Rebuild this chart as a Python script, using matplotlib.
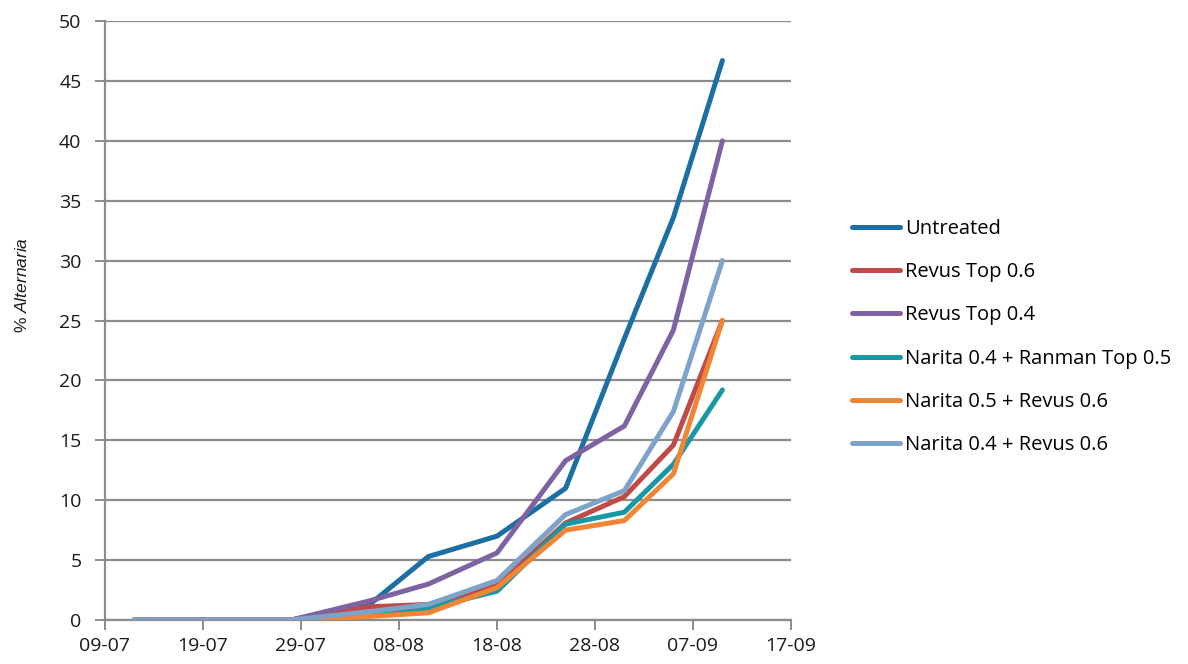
import matplotlib
matplotlib.use("Agg")
import matplotlib.pyplot as plt
import matplotlib.dates as mdates
import datetime as dt

# Assessment dates (day-month)
dates = ["12-07", "28-07", "05-08", "11-08", "18-08", "25-08", "31-08", "05-09", "10-09"]

untreated      = [0.0, 0.0, 1.3, 5.3, 7.0, 11.0, 23.5, 33.6, 46.7]
revus_top_06   = [0.0, 0.0, 1.1, 1.3, 2.9, 8.1, 10.3, 14.6, 25.0]
revus_top_04   = [0.0, 0.0, 1.6, 3.0, 5.6, 13.3, 16.2, 24.2, 40.0]
narita_ranman  = [0.0, 0.0, 0.5, 1.0, 2.4, 8.0, 9.0, 13.0, 19.2]
narita05_revus = [0.0, 0.0, 0.3, 0.6, 2.7, 7.5, 8.3, 12.2, 25.0]
narita04_revus = [0.0, 0.0, 0.7, 1.3, 3.3, 8.8, 10.8, 17.4, 30.0]

series_labels = ["Untreated", "Revus Top 0.6", "Revus Top 0.4",
                 "Narita 0.4 + Ranman Top 0.5", "Narita 0.5 + Revus 0.6",
                 "Narita 0.4 + Revus 0.6"]
series_colors = ["#1B6FA2", "#BE4B48", "#7E62A1", "#1798A5", "#EF8535", "#7EA3CA"]

x_ticks = ["09-07", "19-07", "29-07", "08-08", "18-08", "28-08", "07-09", "17-09"]
y_ticks = [0, 5, 10, 15, 20, 25, 30, 35, 40, 45, 50]

YEAR = 2012


def to_date(s):
    d, m = s.split("-")
    return dt.datetime(YEAR, int(m), int(d))


xd = [to_date(s) for s in dates]
xt = [to_date(s) for s in x_ticks]

plt.rcParams["font.family"] = ["Open Sans", "DejaVu Sans"]
plt.rcParams["mathtext.fontset"] = "custom"
plt.rcParams["mathtext.rm"] = "Liberation Sans"
plt.rcParams["mathtext.it"] = "Liberation Sans:italic"

fig = plt.figure(figsize=(11.88, 6.64), dpi=100)
ax = fig.add_axes([105 / 1188, 44 / 664, (791 - 105) / 1188, (620 - 21) / 664])

all_series = [untreated, revus_top_06, revus_top_04, narita_ranman,
              narita05_revus, narita04_revus]
for vals, lab, col in zip(all_series, series_labels, series_colors):
    ax.plot(xd, vals, color=col, lw=3.6, label=lab,
            solid_capstyle="round", solid_joinstyle="round", zorder=3)

ax.set_xlim(xt[0], xt[-1])
ax.set_ylim(0, 50)
ax.set_yticks(y_ticks)
ax.set_xticks(xt)
ax.xaxis.set_major_formatter(mdates.DateFormatter("%d-%m"))

grid_col = "#8C8C8C"
ax.yaxis.grid(True, color=grid_col, lw=1.6, zorder=1)
ax.set_axisbelow(True)
for side in ("top", "right"):
    ax.spines[side].set_visible(False)
for side in ("left", "bottom"):
    ax.spines[side].set_color(grid_col)
    ax.spines[side].set_linewidth(1.6)

ax.tick_params(axis="both", colors=grid_col, width=1.4, length=7,
               labelsize=14, labelcolor="#1a1a1a")
ax.tick_params(axis="y", pad=10)
ax.tick_params(axis="x", pad=5)

ax.set_ylabel(r"% $\it{Alternaria}$", fontsize=12.5, color="#1a1a1a",
              family=["Liberation Sans", "DejaVu Sans"])
ax.yaxis.set_label_coords(-0.11, 0.56)

leg = fig.legend(loc="center left", bbox_to_anchor=(834 / 1188, 1 - 337 / 664),
                 frameon=False, fontsize=14.5, handlelength=2.4,
                 handletextpad=0.25, labelspacing=1.15)
for line in leg.get_lines():
    line.set_linewidth(3.6)

fig.savefig("out.png", dpi=100)
